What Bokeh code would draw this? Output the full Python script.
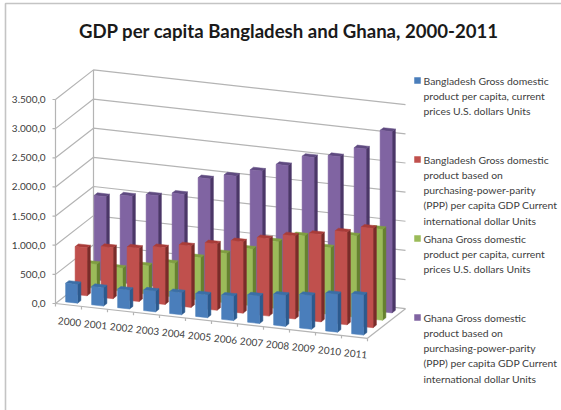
from bokeh.plotting import figure
from bokeh.core.properties import value
from bokeh.embed import file_html
from bokeh.resources import INLINE
import numpy as np

TITLE = "GDP per capita Bangladesh and Ghana, 2000-2011"
years = [str(y) for y in range(2000, 2012)]
y_ticks = [0, 500, 1000, 1500, 2000, 2500, 3000, 3500]
y_tick_labels = ["0,0", "500,0", "1.000,0", "1.500,0", "2.000,0", "2.500,0", "3.000,0", "3.500,0"]

bd_nominal = [320, 315, 320, 355, 377, 390, 417, 469, 532, 577, 646, 686]
bd_ppp = [823, 875, 915, 972, 1052, 1137, 1223, 1326, 1423, 1498, 1590, 1704]
gh_nominal = [412, 395, 486, 578, 726, 846, 972, 1149, 1298, 1144, 1395, 1560]
gh_ppp = [1446, 1504, 1561, 1635, 1950, 2047, 2184, 2327, 2516, 2579, 2762, 3110]

series = [bd_nominal, bd_ppp, gh_nominal, gh_ppp]
faces = [("#4a7ebb", "#2c5a8e", "#3b6ea6"),
         ("#c0504d", "#7a2c2a", "#a83c39"),
         ("#9bbb59", "#66812f", "#7f9e40"),
         ("#8064a2", "#4b3768", "#5f4a80")]
legend_lines = [
    ["Bangladesh Gross domestic", "product per capita, current", "prices U.S. dollars Units"],
    ["Bangladesh Gross domestic", "product based on", "purchasing-power-parity", "(PPP) per capita GDP Current", "international dollar Units"],
    ["Ghana Gross domestic", "product per capita, current", "prices U.S. dollars Units"],
    ["Ghana Gross domestic", "product based on", "purchasing-power-parity", "(PPP) per capita GDP Current", "international dollar Units"],
]
legend_y = [80, 159, 238, 317]

# projection of the chart's 3-D box on the page
O = np.array([55.0, 303.0])
X = np.array([26.0, 2.9])    # one category along the front edge
Z = np.array([9.5, -7.4])    # one series into the depth
PX_PER_UNIT = 204.0 / 3500.0
BAR_W, BAR_D = 0.46, 0.35
N, D = len(years), len(series)


def proj(x, z, v=0.0):
    q = O + x * X + z * Z
    return float(q[0]), float(q[1] - v * PX_PER_UNIT)


p = figure(width=561, height=410, x_range=(0, 561), y_range=(410, 0),
           output_backend="svg", toolbar_location=None, min_border=0, title=None)
p.axis.visible = False
p.grid.visible = False
p.outline_line_color = None
p.background_fill_color = "white"

FONT = value("Lato")
GRID = "#b4b4b4"


def seg(a, b, color=GRID, w=1.2):
    p.line([a[0], b[0]], [a[1], b[1]], line_color=color, line_width=w)


# picture border
p.line([561, 5, 5], [3, 3, 410], line_color="#c4c4c4", line_width=1.6)

# walls and floor
for t in y_ticks:
    a, b, c = proj(0, 0, t), proj(0, D, t), proj(N, D, t)
    p.line([a[0], b[0], c[0]], [a[1], b[1], c[1]], line_color=GRID, line_width=1.2)
    seg((a[0] - 3, a[1]), a)
seg(proj(0, 0, 0), proj(0, 0, 3500))
seg(proj(0, D, 0), proj(0, D, 3500))
seg(proj(0, 0), proj(N, 0))
seg(proj(N, 0), proj(N, D))
for i in range(N + 1):
    q = proj(i, 0)
    seg(q, (q[0], q[1] + 3))

# bars, back to front
for s in range(D - 1, -1, -1):
    z0 = s + 0.5 - BAR_D / 2
    z1 = z0 + BAR_D
    front, side, top = faces[s]
    fx, fy, sx, sy, tx, ty = [], [], [], [], [], []
    for i, v in enumerate(series[s]):
        x0 = i + 0.5 - BAR_W / 2
        x1 = x0 + BAR_W
        f = [proj(x0, z0), proj(x1, z0), proj(x1, z0, v), proj(x0, z0, v)]
        r = [proj(x1, z0), proj(x1, z1), proj(x1, z1, v), proj(x1, z0, v)]
        u = [proj(x0, z0, v), proj(x1, z0, v), proj(x1, z1, v), proj(x0, z1, v)]
        fx.append([a for a, _ in f]); fy.append([b for _, b in f])
        sx.append([a for a, _ in r]); sy.append([b for _, b in r])
        tx.append([a for a, _ in u]); ty.append([b for _, b in u])
    p.patches(sx, sy, fill_color=side, line_color=side, line_width=0.5)
    p.patches(tx, ty, fill_color=top, line_color=top, line_width=0.5)
    p.patches(fx, fy, fill_color=front, line_color=front, line_width=0.5)

# y tick labels
p.text(x=[45] * len(y_ticks), y=[proj(0, 0, t)[1] for t in y_ticks], text=y_tick_labels,
       text_font=FONT, text_font_size="10px", text_color="#404040",
       text_align="right", text_baseline="middle")

# x tick labels along the front edge
lx, ly = zip(*[proj(i + 0.5, 0) for i in range(N)])
p.text(x=[a + 1 for a in lx], y=[b + 17 for b in ly], text=years, angle=-0.1,
       text_font=FONT, text_font_size="10px", text_color="#404040",
       text_align="center", text_baseline="middle")

# legend
p.scatter(x=[417] * D, y=legend_y, marker="square", size=6.5,
          fill_color=[f[0] for f in faces], line_color=None)
tx, ty, tt = [], [], []
for y0, lines in zip(legend_y, legend_lines):
    for j, t in enumerate(lines):
        tx.append(423); ty.append(y0 + j * 15.25); tt.append(t)
p.text(x=tx, y=ty, text=tt, text_font=FONT, text_font_size="10.4px", text_color="#404040",
       text_align="left", text_baseline="middle")

# title
p.text(x=[288.5], y=[30], text=[TITLE], text_font=FONT, text_font_size="18.6px",
       text_font_style="bold", text_color="#1a1a1a", text_align="center", text_baseline="middle")

open("out.html", "w").write(file_html(p, INLINE))
